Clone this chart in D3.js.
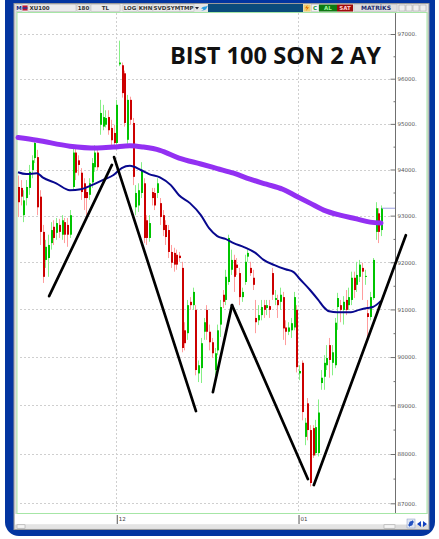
<!DOCTYPE html>
<html>
<head>
<meta charset="utf-8">
<script src="https://d3js.org/d3.v7.min.js"></script>
<style>
  body { margin: 0; background: #ffffff; }
  svg { display: block; }
</style>
</head>
<body>
<div id="chart"></div>
<script>
// BIST 100 candles, [open, high, low, close]
var candles = [
  [93620, 93870, 92970, 93290], [93600, 93770, 93220, 93410], [93010, 93550, 92860, 93330], [93380, 93770, 93220, 93620],
  [93600, 94100, 93450, 93950], [93990, 94310, 93810, 94200], [94250, 94640, 94140, 94580], [94270, 94430, 93010, 93180],
  [93410, 93550, 92370, 92650], [92650, 92800, 91560, 91690], [92050, 92480, 91880, 92330], [92090, 92590, 91690, 92370],
  [92410, 92860, 92270, 92690], [92760, 92900, 92370, 92520], [92630, 92950, 92480, 92840], [92800, 92930, 92520, 92650],
  [92590, 93010, 92480, 92900], [92860, 92950, 92410, 92590], [92800, 92950, 92330, 92590], [92590, 93120, 92520, 93010],
  [93620, 94470, 93550, 94370], [94370, 94470, 93770, 93930], [94200, 94310, 93870, 94100], [93930, 94030, 93340, 93510],
  [93700, 93810, 93120, 93380], [93510, 93640, 93010, 93380], [93450, 93810, 93340, 93700], [93720, 94250, 93600, 94140],
  [94050, 94530, 93950, 94370], [94370, 94470, 93990, 94050], [94980, 95530, 94760, 95240], [94940, 95420, 94860, 95150],
  [94980, 95300, 94920, 95130], [95150, 95300, 94760, 94860], [94910, 95090, 94530, 94640], [94800, 94980, 94470, 94580],
  [94580, 95530, 94510, 95420], [96320, 96850, 96280, 96360], [96300, 96360, 95580, 95680], [96120, 96180, 94940, 95020],
  [94650, 95640, 94530, 95530], [95530, 95600, 94980, 95090], [95020, 95130, 93660, 93840], [93180, 93660, 93010, 93490],
  [93220, 93700, 93080, 93550], [93490, 94160, 93380, 93990], [93700, 93810, 92410, 92520], [92900, 93010, 92370, 92520],
  [92520, 93010, 92440, 92840], [93510, 93600, 93220, 93380], [93490, 93600, 93120, 93220], [93490, 93810, 93380, 93700],
  [93270, 93380, 92800, 92970], [93010, 93120, 92560, 92690], [92800, 92900, 92370, 92540], [92690, 92800, 92090, 92220],
  [92220, 92370, 91880, 91990], [92200, 92310, 91800, 91950], [92160, 92270, 91840, 91950], [92140, 92220, 92010, 92090],
  [91880, 92010, 90100, 90190], [90560, 90730, 90140, 90290], [90500, 91200, 90360, 91090], [91160, 91260, 90990, 91090],
  [91090, 91460, 90990, 91370], [90990, 91090, 89620, 89730], [89660, 89930, 89480, 89830], [89770, 90400, 89460, 90290],
  [90530, 90820, 90360, 90730], [90990, 91090, 90360, 90530], [90530, 90680, 90140, 90310], [90310, 90400, 89980, 90080],
  [89730, 90190, 89620, 90080], [90140, 90680, 90040, 90560], [90680, 91200, 90420, 91050], [91310, 91410, 91030, 91160],
  [91200, 91840, 91090, 91690], [91580, 92590, 91520, 92520], [91840, 92270, 91730, 92050], [92050, 92160, 91370, 91690],
  [91950, 92090, 91730, 91880], [91770, 91880, 91090, 91260], [91260, 91460, 91160, 91370], [91580, 92160, 91520, 92010],
  [92120, 92270, 92010, 92200], [91880, 92010, 91710, 91770], [91670, 91840, 91410, 91520], [90820, 91200, 90500, 90730],
  [90770, 91090, 90670, 90880], [90880, 91200, 90770, 91050], [91090, 91200, 90820, 90990], [91030, 91200, 90880, 91090],
  [91070, 91200, 90820, 90990], [91770, 91880, 91200, 91310], [91200, 91410, 91090, 91240], [91200, 91310, 90820, 91090],
  [91160, 91460, 90990, 91310], [91260, 91370, 90360, 90600], [90620, 90770, 90250, 90530], [90530, 90730, 90460, 90620],
  [90560, 90820, 90400, 90710], [90620, 91370, 90560, 91260], [90990, 91090, 89680, 89790], [89660, 89830, 89520, 89710],
  [89880, 89930, 88690, 88860], [88350, 88740, 88180, 88640], [89040, 89150, 88280, 88490], [88490, 88590, 87340, 87410],
  [88530, 88590, 87920, 87970], [88020, 88700, 87970, 88550], [88020, 89120, 87950, 88850], [89460, 89730, 89320, 89570],
  [89590, 90040, 89320, 89880], [89830, 90250, 89730, 89980], [90250, 90400, 89570, 89940], [89880, 90250, 89620, 90100],
  [89830, 90820, 89770, 90720], [91050, 91350, 90570, 91240], [91090, 91200, 90730, 90990], [90990, 91280, 90680, 91160],
  [91200, 91410, 90880, 90990], [91090, 91460, 90990, 91260], [91200, 91800, 91090, 91670], [91670, 91800, 91240, 91410],
  [91520, 92010, 91370, 91730], [91690, 92050, 91580, 91950], [91880, 91990, 91200, 91800], [91690, 91840, 91520, 91710],
  [90920, 91200, 90420, 90840], [90840, 91370, 90770, 91260], [91240, 92090, 91200, 92050], [92650, 93290, 92480, 93160],
  [93050, 93160, 92410, 92650], [92690, 93220, 92560, 93160]
];

// long moving average (purple), [candle index, value]
var maSlow = [
  [0, 94700], [7, 94640], [19, 94510], [29, 94470], [35, 94490], [41, 94520], [46, 94490], [52, 94420],
  [59, 94250], [67, 94120], [73, 94020], [79, 93920], [85, 93790], [91, 93680], [97, 93570], [102, 93420],
  [107, 93270], [112, 93120], [118, 93010], [124, 92930], [129, 92860], [133, 92840]
];

// short moving average (navy)
var maFast = [
  [0, 93940], [3, 93900], [7, 93920], [9, 93830], [14, 93700], [19, 93550], [23, 93570], [27, 93660],
  [31, 93770], [35, 93880], [38, 94030], [41, 94080], [45, 93990], [48, 93900], [52, 93830], [56, 93660],
  [59, 93440], [63, 93270], [67, 93010], [70, 92730], [73, 92560], [76, 92500], [79, 92410], [83, 92320],
  [87, 92200], [90, 92050], [94, 91940], [98, 91850], [101, 91790], [103, 91660], [107, 91410], [110, 91200],
  [112, 91050], [114, 90960], [117, 90940], [122, 90940], [125, 90990], [128, 91030], [130, 91050], [133, 91180]
];

// hand drawn trend lines
var trendLines = [
  [[11.4, 91280], [34.4, 94100]],
  [[35.2, 94270], [65.2, 88880]],
  [[71.4, 89270], [78.4, 91090]],
  [[78.4, 91090], [106.2, 87490]],
  [[108.4, 87370], [142.1, 92580]]
];

var yTicks = [87000, 88000, 89000, 90000, 91000, 92000, 93000, 94000, 95000, 96000, 97000];
var yMinorTicks = [87500, 88500, 89500, 90500, 91500, 92500, 93500, 94500, 95500, 96500];
var monthLabels = ["12", "01"];
var monthIndex = [36, 102.6];
var symbol = "XU100";
var title = "BIST 100 SON 2 AY";

var W = 439, H = 539;
var svg = d3.select("#chart").append("svg")
    .attr("width", W)
    .attr("height", H);

var x = d3.scaleLinear().domain([0, candles.length - 1]).range([18, 381]);
var y = d3.scaleLog().domain([87000, 97000]).range([503.3, 34]);

// frame
svg.append("rect")
    .attr("x", 5).attr("y", -20)
    .attr("width", 430).attr("height", 556)
    .attr("rx", 14)
    .attr("fill", "#0335a0");

svg.append("rect")
    .attr("x", 14).attr("y", 3.5)
    .attr("width", 415).attr("height", 526)
    .attr("fill", "#dcdcdc")
    .attr("stroke", "#9a9a9a");

// toolbar
var tb = svg.append("g").attr("font-family", "DejaVu Sans").attr("font-size", "5.5px").attr("font-weight", "bold");
tb.append("rect").attr("x", 15).attr("y", 4).attr("width", 413).attr("height", 8).attr("fill", "#e6e6e6");

var buttons = [
    {x: 16, w: 6, t: "M", c: "#1a2a7a"},
    {x: 28, w: 48, t: symbol, c: "#333"},
    {x: 77, w: 13, t: "180", c: "#333"},
    {x: 91, w: 29, t: "TL", c: "#333"},
    {x: 123, w: 14, t: "LOG", c: "#333"},
    {x: 138, w: 15, t: "KHN", c: "#333"},
    {x: 153, w: 14, t: "SVD", c: "#333"},
    {x: 167, w: 13, t: "SYM", c: "#333"},
    {x: 180, w: 14, t: "TMP", c: "#333"}
];
tb.selectAll(".btn").data(buttons).enter().append("rect")
    .attr("class", "btn")
    .attr("x", function (d) { return d.x; })
    .attr("y", 4.5)
    .attr("width", function (d) { return d.w; })
    .attr("height", 7)
    .attr("fill", "#ececec")
    .attr("stroke", "#b8b8b8")
    .attr("stroke-width", 0.5);
tb.selectAll(".btxt").data(buttons).enter().append("text")
    .attr("class", "btxt")
    .attr("x", function (d, i) { return i == 1 ? d.x + 1.5 : d.x + d.w / 2; })
    .attr("y", 10.2)
    .attr("text-anchor", function (d, i) { return i == 1 ? "start" : "middle"; })
    .attr("fill", function (d) { return d.c; })
    .text(function (d) { return d.t; });

// flag next to symbol
tb.append("rect").attr("x", 22.5).attr("y", 5.5).attr("width", 5).attr("height", 5).attr("fill", "#c8102e");
tb.append("rect").attr("x", 22.5).attr("y", 7.3).attr("width", 5).attr("height", 1.4).attr("fill", "#1e3f9e");
// dropdown arrow and bird
tb.append("path").attr("d", "M195,7 L199,7 L197,9.5 Z").attr("fill", "#223");
tb.append("path").attr("d", "M201,8.5 Q203,6 206,6.5 L208,5.5 L207,7.5 Q206,11 201,10.5 Q203,10 203.5,9 Z").attr("fill", "#2a9fe0");
tb.append("rect").attr("x", 208).attr("y", 4).attr("width", 95).attr("height", 8).attr("fill", "#0b4b7c");
tb.append("rect").attr("x", 303.5).attr("y", 4.5).attr("width", 7).attr("height", 7).attr("fill", "#f0d070");
tb.append("path").attr("d", "M307.5,5 L305,8.3 L307,8.3 L306,11 L309,7.3 L307,7.3 Z").attr("fill", "#e07000");
tb.append("rect").attr("x", 311.5).attr("y", 4.5).attr("width", 7).attr("height", 7).attr("fill", "#f2f2f2").attr("stroke", "#bbb").attr("stroke-width", 0.5);
tb.append("text").attr("x", 315).attr("y", 10.2).attr("text-anchor", "middle").attr("fill", "#129a3a").text("C");
tb.append("rect").attr("x", 319).attr("y", 4.5).attr("width", 18).attr("height", 7).attr("fill", "#0e7a12");
tb.append("text").attr("x", 328).attr("y", 10.2).attr("text-anchor", "middle").attr("fill", "#9cf59c").text("AL");
tb.append("rect").attr("x", 337).attr("y", 4.5).attr("width", 16).attr("height", 7).attr("fill", "#9e0b0b");
tb.append("text").attr("x", 345).attr("y", 10.2).attr("text-anchor", "middle").attr("fill", "#ffd0d0").text("SAT");
tb.append("rect").attr("x", 354).attr("y", 4.5).attr("width", 43).attr("height", 7).attr("fill", "#e0e0e0").attr("stroke", "#bbb").attr("stroke-width", 0.5);
tb.append("text").attr("x", 376).attr("y", 10.3).attr("text-anchor", "middle").attr("fill", "#1c2a6e").attr("font-size", "6px").text("MATRİKS");
tb.selectAll(".win").data([399, 406, 413, 420]).enter().append("rect")
    .attr("x", function (d) { return d; })
    .attr("y", 5)
    .attr("width", 6).attr("height", 6)
    .attr("fill", "#eeeeee")
    .attr("stroke", "#a0a0a0")
    .attr("stroke-width", 0.5);

// plot area
svg.append("rect")
    .attr("x", 17).attr("y", 12.5)
    .attr("width", 410).attr("height", 501)
    .attr("fill", "#ffffff")
    .attr("stroke", "#a6e6a6");
svg.append("rect")
    .attr("x", 15).attr("y", 514)
    .attr("width", 413).attr("height", 10.5)
    .attr("fill", "#ffffff");

// grid
svg.append("g").selectAll("line").data(yTicks).enter().append("line")
    .attr("x1", 20).attr("x2", 392)
    .attr("y1", function (d) { return Math.round(y(d)) + 0.5; })
    .attr("y2", function (d) { return Math.round(y(d)) + 0.5; })
    .attr("stroke", "#cfcfcf")
    .attr("stroke-dasharray", "2,2");
svg.append("g").selectAll("line").data(monthIndex).enter().append("line")
    .attr("x1", function (d) { return Math.round(x(d)) + 0.5; })
    .attr("x2", function (d) { return Math.round(x(d)) + 0.5; })
    .attr("y1", 13).attr("y2", 513)
    .attr("stroke", "#cfcfcf")
    .attr("stroke-dasharray", "2,2");

// y axis on the right, ticks point into the plot
svg.append("line")
    .attr("x1", 395.5).attr("x2", 395.5)
    .attr("y1", 13).attr("y2", 513)
    .attr("stroke", "#707070");
var yAxis = d3.axisRight(y)
    .tickValues(yTicks)
    .tickSizeInner(-5)
    .tickSizeOuter(0)
    .tickPadding(2)
    .tickFormat(function (d) { return d + "."; });
var ya = svg.append("g")
    .attr("transform", "translate(395.5,0)")
    .call(yAxis);
ya.select(".domain").remove();
ya.selectAll("line").attr("stroke", "#707070");
ya.selectAll("text")
    .attr("font-family", "DejaVu Sans")
    .attr("font-size", "5.5px")
    .attr("fill", "#555");
var ym = svg.append("g")
    .attr("transform", "translate(395.5,0)")
    .call(d3.axisRight(y).tickValues(yMinorTicks).tickSizeInner(-2).tickSizeOuter(0).tickFormat(""));
ym.select(".domain").remove();
ym.selectAll("line").attr("stroke", "#707070");

// x axis months
var xAxis = d3.axisBottom(x)
    .tickValues(monthIndex)
    .tickSizeInner(9)
    .tickSizeOuter(0)
    .tickFormat(function (d, i) { return monthLabels[i]; });
var xa = svg.append("g")
    .attr("transform", "translate(0.5,515)")
    .call(xAxis);
xa.select(".domain").remove();
xa.selectAll("line").attr("stroke", "#555");
xa.selectAll("text")
    .attr("font-family", "DejaVu Sans")
    .attr("font-size", "5.5px")
    .attr("fill", "#444")
    .attr("text-anchor", "start")
    .attr("x", 1.5)
    .attr("y", 4)
    .attr("dy", "0.32em");

// bottom scroll bits
svg.append("rect").attr("x", 16).attr("y", 524.5).attr("width", 380).attr("height", 4).attr("fill", "#e4e4e4");
svg.append("rect").attr("x", 17).attr("y", 524.8).attr("width", 8).attr("height", 3.4).attr("fill", "#f4f4f4").attr("stroke", "#999").attr("stroke-width", 0.5);
svg.append("rect").attr("x", 384).attr("y", 524.8).attr("width", 11).attr("height", 3.4).attr("fill", "#f4f4f4").attr("stroke", "#999").attr("stroke-width", 0.5);
svg.append("rect").attr("x", 407).attr("y", 519).attr("width", 8).attr("height", 9).attr("fill", "#dfe6f4").attr("stroke", "#8a9ac0").attr("stroke-width", 0.5);
svg.append("path").attr("d", "M409,524 Q409,521 412,521 L412,520 L414,522 L412,524 L412,523 Q410.5,523 410.5,524.5 Z M413,523 Q413,526 410,526 L410,527 L408,525 L410,523 L410,524 Q411.5,524 411.5,522.5 Z").attr("fill", "#2050c0");
svg.append("path").attr("d", "M421,521 L421,527 L417,524 Z M423,521 L423,527 L427,524 Z").attr("fill", "#1040c0");

// candles
var wickColor = {up: "#86ef86", down: "#ff9d9d"};
var bodyColor = {up: "#00c400", down: "#cc0000"};
var cg = svg.append("g");
var node = cg.selectAll(".candle")
    .data(candles)
    .enter().append("g")
    .attr("class", "candle");

node.append("line")
    .attr("x1", function (d, i) { return Math.round(x(i)) + 0.5; })
    .attr("x2", function (d, i) { return Math.round(x(i)) + 0.5; })
    .attr("y1", function (d) { return y(d[1]); })
    .attr("y2", function (d) { return y(d[2]); })
    .attr("stroke", function (d) { return d[3] >= d[0] ? wickColor.up : wickColor.down; })
    .attr("stroke-width", 1);

node.append("rect")
    .attr("x", function (d, i) { return Math.round(x(i)); })
    .attr("y", function (d) { return y(Math.max(d[0], d[3])); })
    .attr("width", 2)
    .attr("height", function (d) { return Math.max(1, Math.abs(y(d[0]) - y(d[3]))); })
    .attr("fill", function (d) { return d[3] >= d[0] ? bodyColor.up : bodyColor.down; });

// last price marker
var last = candles[candles.length - 1][3];
svg.append("line")
    .attr("x1", x(candles.length - 1) + 1)
    .attr("x2", 395)
    .attr("y1", y(last)).attr("y2", y(last))
    .attr("stroke", "#9a9ee0");

// moving averages
var maLine = d3.line()
    .x(function (d) { return x(d[0]); })
    .y(function (d) { return y(d[1]); })
    .curve(d3.curveMonotoneX);

svg.append("path")
    .datum(maFast)
    .attr("d", maLine)
    .attr("fill", "none")
    .attr("stroke", "#08088e")
    .attr("stroke-width", 2);

svg.append("path")
    .datum(maSlow)
    .attr("d", maLine)
    .attr("fill", "none")
    .attr("stroke", "#9330f2")
    .attr("stroke-width", 5)
    .attr("stroke-linecap", "round");

// trend lines
svg.append("g").selectAll("path")
    .data(trendLines)
    .enter().append("path")
    .attr("d", d3.line().x(function (d) { return x(d[0]); }).y(function (d) { return y(d[1]); }))
    .attr("fill", "none")
    .attr("stroke", "#000000")
    .attr("stroke-width", 2.7)
    .attr("stroke-linecap", "round");

// title
svg.append("text")
    .attr("x", 170)
    .attr("y", 63.5)
    .attr("font-family", "Open Sans")
    .attr("font-weight", "bold")
    .attr("font-size", "23px")
    .attr("textLength", 211)
    .attr("lengthAdjust", "spacingAndGlyphs")
    .attr("fill", "#111111")
    .text(title);
</script>
</body>
</html>
